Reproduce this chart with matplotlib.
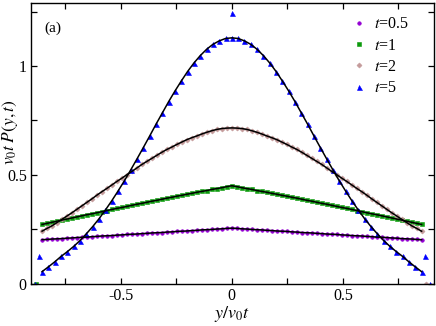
import matplotlib
matplotlib.use("Agg")
import matplotlib.pyplot as plt
import numpy as np

plt.rcParams["font.family"] = ["Liberation Serif", "DejaVu Serif"]
plt.rcParams["mathtext.fontset"] = "stix"

# sample positions (y / v0 t)
x_fine = np.linspace(-0.855, 0.855, 77)
x_t5 = np.linspace(-0.855, 0.855, 61)

# profiles, left edge -> centre -> right edge
p_t05 = [0.202, 0.203, 0.205, 0.206, 0.207, 0.209, 0.210, 0.212, 0.213, 0.214,
         0.216, 0.217, 0.219, 0.220, 0.221, 0.223, 0.224, 0.226, 0.227, 0.228,
         0.230, 0.231, 0.233, 0.234, 0.235, 0.237, 0.238, 0.240, 0.241, 0.242,
         0.244, 0.245, 0.247, 0.248, 0.249, 0.251, 0.252, 0.254,
         0.255,
         0.254, 0.252, 0.251, 0.249, 0.248, 0.247, 0.245, 0.244, 0.242, 0.241,
         0.240, 0.238, 0.237, 0.235, 0.234, 0.233, 0.231, 0.230, 0.228, 0.227,
         0.226, 0.224, 0.223, 0.221, 0.220, 0.219, 0.217, 0.216, 0.214, 0.213,
         0.212, 0.210, 0.209, 0.207, 0.206, 0.205, 0.203, 0.202]

p_t1 = [0.272, 0.277, 0.282, 0.287, 0.292, 0.297, 0.302, 0.307, 0.312, 0.317,
        0.321, 0.326, 0.331, 0.336, 0.341, 0.346, 0.350, 0.355, 0.360, 0.365,
        0.369, 0.374, 0.379, 0.383, 0.388, 0.393, 0.397, 0.402, 0.406, 0.411,
        0.415, 0.420, 0.424, 0.428, 0.433, 0.437, 0.441, 0.446,
        0.450,
        0.446, 0.441, 0.437, 0.433, 0.428, 0.424, 0.420, 0.415, 0.411, 0.406,
        0.402, 0.397, 0.393, 0.388, 0.383, 0.379, 0.374, 0.369, 0.365, 0.360,
        0.355, 0.350, 0.346, 0.341, 0.336, 0.331, 0.326, 0.321, 0.317, 0.312,
        0.307, 0.302, 0.297, 0.292, 0.287, 0.282, 0.277, 0.272]

p_t2 = [0.241, 0.254, 0.266, 0.281, 0.296, 0.311, 0.326, 0.342, 0.358, 0.374,
        0.390, 0.407, 0.423, 0.438, 0.454, 0.470, 0.485, 0.501, 0.516, 0.532,
        0.548, 0.562, 0.576, 0.590, 0.604, 0.617, 0.628, 0.640, 0.651, 0.662,
        0.671, 0.679, 0.688, 0.696, 0.703, 0.709, 0.713, 0.715,
        0.716,
        0.715, 0.713, 0.709, 0.703, 0.696, 0.688, 0.679, 0.671, 0.662, 0.651,
        0.640, 0.628, 0.617, 0.604, 0.590, 0.576, 0.562, 0.548, 0.532, 0.516,
        0.501, 0.485, 0.470, 0.454, 0.438, 0.423, 0.407, 0.390, 0.374, 0.358,
        0.342, 0.326, 0.311, 0.296, 0.281, 0.266, 0.254, 0.241]

p_t5 = [0.055, 0.077, 0.100, 0.125, 0.147, 0.171, 0.198, 0.229, 0.262, 0.298,
        0.338, 0.380, 0.425, 0.472, 0.522, 0.573, 0.625, 0.678, 0.732, 0.784,
        0.836, 0.885, 0.931, 0.975, 1.014, 1.048, 1.077, 1.100, 1.116, 1.127,
        1.130,
        1.127, 1.116, 1.100, 1.077, 1.048, 1.014, 0.975, 0.931, 0.885, 0.836,
        0.784, 0.732, 0.678, 0.625, 0.573, 0.522, 0.472, 0.425, 0.380, 0.338,
        0.298, 0.262, 0.229, 0.198, 0.171, 0.147, 0.125, 0.100, 0.077, 0.055]

# isolated points (ballistic peaks) at the edges and centre
edge_x_t1 = [-0.882]
edge_p_t1 = [0.0]
edge_x_t2 = [0.876]
edge_p_t2 = [0.0]
edge_x_t5 = [-0.889, -0.870, 0.0, 0.870, 0.893]
edge_p_t5 = [0.0, 0.128, 1.242, 0.128, 0.0]

series = [
    ("$t$=0.5", x_fine, p_t05, [], [], "o", "#9400d3", 2.6),
    ("$t$=1", x_fine, p_t1, edge_x_t1, edge_p_t1, "s", "#0c9a0c", 2.6),
    ("$t$=2", x_fine, p_t2, edge_x_t2, edge_p_t2, "D", "#c49a9a", 2.6),
    ("$t$=5", x_t5, p_t5, edge_x_t5, edge_p_t5, "^", "#0000ff", 3.6),
]

fig = plt.figure(figsize=(4.36, 3.26), dpi=100)
ax = fig.add_axes([0.071, 0.130, 0.924, 0.862])

for label, xs, ps, ex, ep, mk, col, ms in series:
    ax.plot(xs, ps, mk, color=col, markersize=ms, markeredgewidth=0.4,
            label=label, zorder=2)
    if ex:
        ax.plot(ex, ep, mk, color=col, markersize=ms, markeredgewidth=0.4,
                zorder=2)
    ax.plot(xs, ps, "-", color="black", linewidth=1.1, zorder=3)

ax.set_xlim(-0.905, 0.91)
ax.set_ylim(0, 1.292)
ax.set_xticks([-0.5, 0, 0.5])
ax.set_xticklabels(["-0.5", "0", "0.5"])
ax.set_xticks([-0.75, -0.25, 0.25, 0.75], minor=True)
ax.set_yticks([0, 0.5, 1])
ax.set_yticklabels(["0", "0.5", "1"])
ax.set_yticks([0.25, 0.75, 1.25], minor=True)
ax.tick_params(which="both", direction="in", top=True, right=True,
               labelsize=11.5, width=0.9)
ax.tick_params(which="major", length=4.5, pad=3)
ax.tick_params(which="minor", length=4)
for s in ax.spines.values():
    s.set_linewidth(1.0)

ax.set_xlabel("$y/v_0t$", fontsize=13, labelpad=0)
ax.set_ylabel("$v_0t\\;P(y,t)$", fontsize=12.5)
ax.yaxis.set_label_coords(-0.026, 0.54)
ax.text(0.055, 0.91, "(a)", transform=ax.transAxes, fontsize=11,
        ha="center", va="center")

ax.legend(loc="upper left", bbox_to_anchor=(0.778, 0.974), frameon=False,
          numpoints=1, handlelength=1.0, handletextpad=0.45, labelspacing=0.33,
          fontsize=11.5, borderaxespad=0.0)

fig.savefig("out.png", dpi=100)
